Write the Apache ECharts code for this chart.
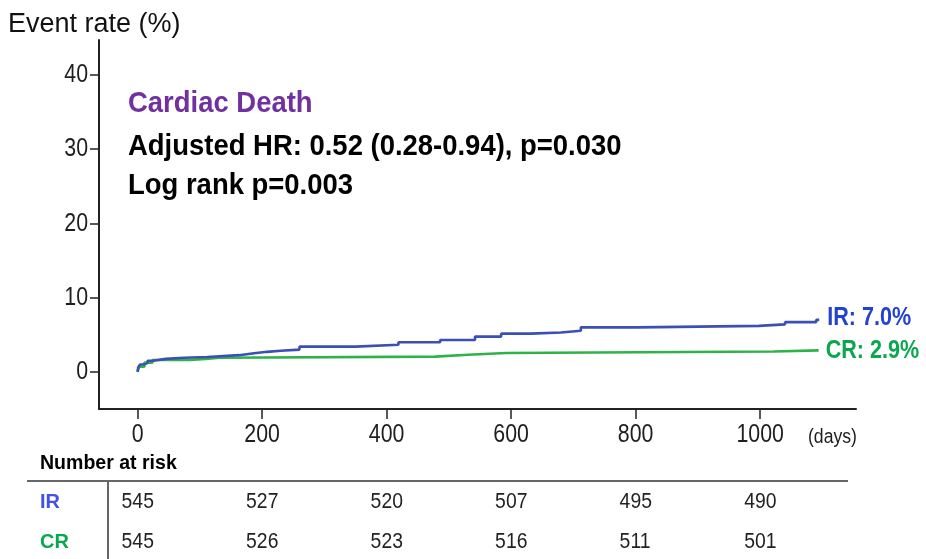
<!DOCTYPE html>
<html>
<head>
<meta charset="utf-8">
<title>Cardiac Death – cumulative event rate</title>
<script src="https://cdn.jsdelivr.net/npm/echarts@6/dist/echarts.min.js"></script>
<style>
  html, body { margin: 0; padding: 0; background: #fff; }
  #chart { width: 926px; height: 559px; }
</style>
</head>
<body>
<div id="chart"></div>
<script>
// Kaplan–Meier style cumulative event curves (days, event rate %)
const irDays   = [0, 1, 4, 9, 16, 25, 45, 75, 112, 163, 187, 208, 230, 260, 350, 419, 486, 542, 584, 632, 680, 712, 803, 998, 1040, 1090, 1095];
const irRates  = [0, 0.6, 1.0, 1.2, 1.5, 1.75, 1.9, 2.0, 2.25, 2.5, 2.7, 2.85, 3.0, 3.4, 3.65, 4.0, 4.3, 4.75, 5.15, 5.3, 5.55, 6.0, 6.2, 6.4, 6.7, 7.0, 7.0];
const crDays   = [0, 1, 3, 11, 24, 83, 110, 131, 478, 531, 592, 1022, 1094];
const crRates  = [0, 0.4, 0.7, 1.25, 1.6, 1.75, 1.9, 2.05, 2.3, 2.55, 2.75, 2.9, 2.9];

// Axis ticks
const xTicks = [0, 200, 400, 600, 800, 1000];
const yTicks = [0, 10, 20, 30, 40];

// Number at risk table
const riskDays = [0, 200, 400, 600, 800, 1000];
const irAtRisk = [545, 527, 520, 507, 495, 490];
const crAtRisk = [545, 526, 523, 516, 511, 501];

const irFinalLabel = 'IR: 7.0%';
const crFinalLabel = 'CR: 2.9%';

const SANS = '"Liberation Sans", Arial, sans-serif';

const BLUE_LINE = '#3b50b4';
const GREEN_LINE = '#2eb34b';
const BLUE_TEXT = '#2342d2';
const GREEN_TEXT = '#0aa84e';
const INK = '#1e1e1e';

const chart = echarts.init(document.getElementById('chart'), null, { renderer: 'canvas' });

function pairs(xs, ys) { return xs.map((d, i) => [d, ys[i]]); }

chart.setOption({
  animation: false,
  backgroundColor: '#ffffff',
  grid: { left: 99, right: 70, top: 40, bottom: 150, containLabel: false },
  xAxis: {
    type: 'value',
    min: -62,
    max: 1154,
    axisLine: { onZero: false, lineStyle: { color: '#222', width: 2 } },
    axisTick: { customValues: xTicks, length: 10, lineStyle: { color: '#222', width: 1.5 } },
    axisLabel: { show: false },
    splitLine: { show: false }
  },
  yAxis: {
    type: 'value',
    min: -5,
    max: 44.7,
    axisLine: { show: true, onZero: false, lineStyle: { color: '#222', width: 2 } },
    axisTick: { show: true, customValues: yTicks, length: 9, lineStyle: { color: '#222', width: 1.5 } },
    axisLabel: { show: false },
    splitLine: { show: false }
  },
  series: [
    {
      name: 'IR',
      type: 'line',
      step: 'end',
      showSymbol: false,
      data: pairs(irDays, irRates),
      lineStyle: { color: BLUE_LINE, width: 2.6 },
      z: 3
    },
    {
      name: 'CR',
      type: 'line',
      step: 'end',
      showSymbol: false,
      data: pairs(crDays, crRates),
      lineStyle: { color: GREEN_LINE, width: 2.6 },
      z: 2
    }
  ]
});

// Condensed text helper: regular face squeezed horizontally
function label(x, y, text, size, opts) {
  opts = opts || {};
  return {
    type: 'text', x: x, y: y, scaleX: opts.scaleX || 1,
    style: {
      text: text,
      fill: opts.fill || INK,
      font: (opts.bold ? 'bold ' : '') + size + 'px ' + SANS,
      textAlign: opts.align || 'left',
      textVerticalAlign: 'middle'
    }
  };
}

const graphics = [
  label(8, 25, 'Event rate (%)', 27, { fill: '#111' }),
  label(128, 104, 'Cardiac Death', 30, { bold: true, fill: '#7030a0', scaleX: 0.915 }),
  label(128, 147, 'Adjusted HR: 0.52 (0.28-0.94), p=0.030', 30, { bold: true, fill: '#000', scaleX: 0.915 }),
  label(128, 186, 'Log rank p=0.003', 30, { bold: true, fill: '#000', scaleX: 0.915 }),
  label(808, 437, '(days)', 20, { scaleX: 0.88 }),
  label(40, 463, 'Number at risk', 21, { bold: true, fill: '#000', scaleX: 0.93 }),
  { type: 'line', shape: { x1: 27, y1: 481, x2: 848, y2: 481 }, style: { stroke: '#333', lineWidth: 1.5 } },
  { type: 'line', shape: { x1: 108, y1: 482, x2: 108, y2: 559 }, style: { stroke: '#333', lineWidth: 1.5 } },
  label(40, 502, 'IR', 21, { bold: true, fill: '#4450e6', scaleX: 0.95 }),
  label(40, 542, 'CR', 21, { bold: true, fill: GREEN_TEXT, scaleX: 0.95 })
];

// Tick labels placed at the axis positions
xTicks.forEach(v => {
  const px = chart.convertToPixel({ xAxisIndex: 0 }, v);
  graphics.push(label(px, 435, String(v), 26, { align: 'center', scaleX: 0.82 }));
});
yTicks.forEach(v => {
  const py = chart.convertToPixel({ yAxisIndex: 0 }, v);
  graphics.push(label(88, py, String(v), 26, { align: 'right', scaleX: 0.82 }));
});

// Final rate labels at the end of each curve
const irEnd = chart.convertToPixel({ seriesIndex: 0 }, [irDays[irDays.length - 1], irRates[irRates.length - 1]]);
const crEnd = chart.convertToPixel({ seriesIndex: 1 }, [crDays[crDays.length - 1], crRates[crRates.length - 1]]);
graphics.push(label(irEnd[0] + 8, irEnd[1] - 2, irFinalLabel, 26, { bold: true, fill: BLUE_TEXT, scaleX: 0.83 }));
graphics.push(label(crEnd[0] + 7, crEnd[1] + 0.5, crFinalLabel, 26, { bold: true, fill: GREEN_TEXT, scaleX: 0.83 }));

// Number at risk rows under each time point
riskDays.forEach((d, i) => {
  const px = chart.convertToPixel({ xAxisIndex: 0 }, d) - 16;
  graphics.push(label(px, 502, String(irAtRisk[i]), 22, { scaleX: 0.88, fill: '#222' }));
  graphics.push(label(px, 542, String(crAtRisk[i]), 22, { scaleX: 0.88, fill: '#222' }));
});

chart.setOption({ graphic: graphics });
</script>
</body>
</html>
